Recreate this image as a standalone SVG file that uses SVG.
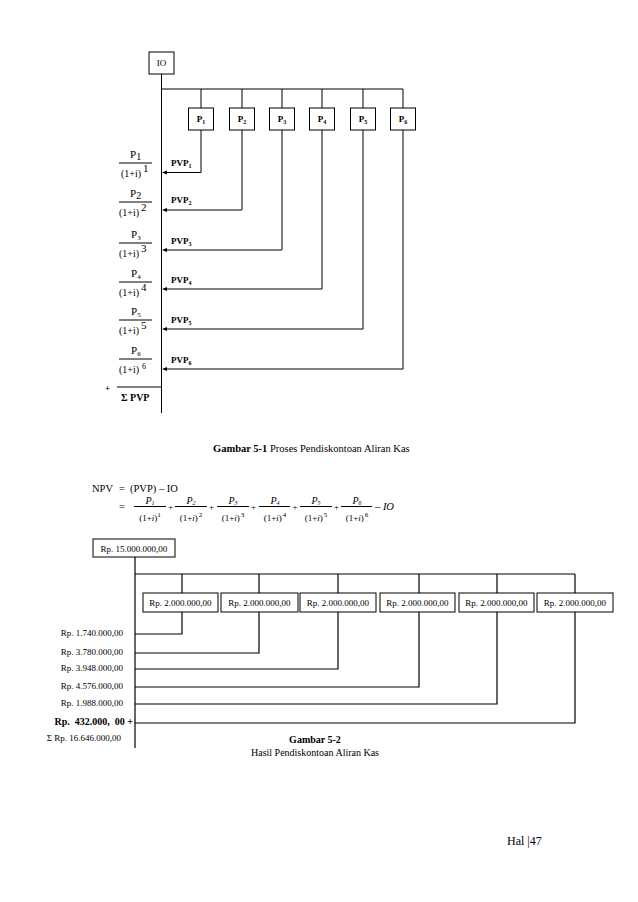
<svg xmlns="http://www.w3.org/2000/svg" width="638" height="902" viewBox="0 0 638 902">
<defs>
<style>
text{font-family:"Liberation Serif","Times New Roman",serif;fill:#000}
.ln{stroke:#000;stroke-width:1;fill:none}
.ln2{stroke:#000;stroke-width:1.2;fill:none}
.bx{stroke:#000;stroke-width:1;fill:#fff}
.s9{font-size:9px}
.b{font-weight:bold}
.fn{font-size:11px}
.fd{font-size:10px}
.fe{font-size:9px}
.eq{font-size:10.5px}
.it{font-style:italic}
.c{text-anchor:middle}
.e{text-anchor:end}
</style>
</defs>
<rect width="638" height="902" fill="#fff"/>

<!-- Figure 5-1 connectors -->
<g id="connectors1">
<line class="ln" x1="161.5" y1="74" x2="161.5" y2="413"/>
<polyline class="ln" points="161.5,89 403,89"/>
<line class="ln" x1="201" y1="89" x2="201" y2="108"/>
<line class="ln" x1="242" y1="89" x2="242" y2="108"/>
<line class="ln" x1="282" y1="89" x2="282" y2="108"/>
<line class="ln" x1="322" y1="89" x2="322" y2="108"/>
<line class="ln" x1="363" y1="89" x2="363" y2="108"/>
<line class="ln" x1="403" y1="89" x2="403" y2="108"/>
<polyline class="ln" points="201,130 201,172.5 164,172.5"/>
<polyline class="ln" points="242,130 242,210 164,210"/>
<polyline class="ln" points="282,130 282,250 164,250"/>
<polyline class="ln" points="322,130 322,289 164,289"/>
<polyline class="ln" points="363,130 363,329 164,329"/>
<polyline class="ln" points="403,130 403,369 164,369"/>
<path d="M162,172.5 L167,170.5 L167,174.5 Z M162,210 L167,208 L167,212 Z M162,250 L167,248 L167,252 Z M162,289 L167,287 L167,291 Z M162,329 L167,327 L167,331 Z M162,369 L167,367 L167,371 Z" fill="#000"/>
<line class="ln" x1="117" y1="387" x2="161.5" y2="387"/>
</g>

<g id="IO">
<rect class="bx" x="149" y="52" width="25" height="22"/>
<text class="s9 c" x="161.5" y="66">IO</text>
</g>
<g id="P1"><rect class="bx" x="188.5" y="108" width="25" height="22"/><text class="s9 b c" x="201" y="122">P<tspan font-size="6" dy="2">1</tspan></text></g>
<g id="P2"><rect class="bx" x="229.5" y="108" width="25" height="22"/><text class="s9 b c" x="242" y="122">P<tspan font-size="6" dy="2">2</tspan></text></g>
<g id="P3"><rect class="bx" x="269.5" y="108" width="25" height="22"/><text class="s9 b c" x="282" y="122">P<tspan font-size="6" dy="2">3</tspan></text></g>
<g id="P4"><rect class="bx" x="309.5" y="108" width="25" height="22"/><text class="s9 b c" x="322" y="122">P<tspan font-size="6" dy="2">4</tspan></text></g>
<g id="P5"><rect class="bx" x="350.5" y="108" width="25" height="22"/><text class="s9 b c" x="363" y="122">P<tspan font-size="6" dy="2">5</tspan></text></g>
<g id="P6"><rect class="bx" x="390.5" y="108" width="25" height="22"/><text class="s9 b c" x="403" y="122">P<tspan font-size="6" dy="2">6</tspan></text></g>

<g id="pvp-labels">
<text class="s9 b" x="171" y="166">PVP<tspan font-size="6" dy="2">1</tspan></text>
<text class="s9 b" x="171" y="203">PVP<tspan font-size="6" dy="2">2</tspan></text>
<text class="s9 b" x="171" y="244">PVP<tspan font-size="6" dy="2">3</tspan></text>
<text class="s9 b" x="171" y="283">PVP<tspan font-size="6" dy="2">4</tspan></text>
<text class="s9 b" x="171" y="323">PVP<tspan font-size="6" dy="2">5</tspan></text>
<text class="s9 b" x="171" y="363">PVP<tspan font-size="6" dy="2">6</tspan></text>
</g>

<g id="fractions1">
<line class="ln" x1="119" y1="163" x2="152" y2="163"/>
<text class="fn" x="130" y="158">P<tspan font-size="10" dy="2">1</tspan></text>
<text class="fd" x="121" y="177">(1+i)<tspan font-size="11" dx="2" dy="-5">1</tspan></text>
<line class="ln" x1="119" y1="202" x2="152" y2="202"/>
<text class="fn" x="130" y="197">P<tspan font-size="10" dy="2">2</tspan></text>
<text class="fd" x="119" y="216">(1+i)<tspan font-size="11" dx="2" dy="-5">2</tspan></text>
<line class="ln" x1="119" y1="243" x2="152" y2="243"/>
<text class="fn" x="131" y="238">P<tspan font-size="7" dy="2">3</tspan></text>
<text class="fd" x="119" y="257">(1+i)<tspan font-size="11" dx="2" dy="-5">3</tspan></text>
<line class="ln" x1="119" y1="282" x2="152" y2="282"/>
<text class="fn" x="131" y="277">P<tspan font-size="7" dy="2">4</tspan></text>
<text class="fd" x="119" y="296">(1+i)<tspan font-size="11" dx="2" dy="-5">4</tspan></text>
<line class="ln" x1="119" y1="320" x2="152" y2="320"/>
<text class="fn" x="131" y="315">P<tspan font-size="7" dy="2">5</tspan></text>
<text class="fd" x="119" y="334">(1+i)<tspan font-size="11" dx="2" dy="-5">5</tspan></text>
<line class="ln" x1="119" y1="359" x2="152" y2="359"/>
<text class="fn" x="131" y="354">P<tspan font-size="7" dy="2">6</tspan></text>
<text class="fd" x="119" y="373">(1+i)<tspan font-size="8" dx="3" dy="-4">6</tspan></text>
<text class="s9 b" x="105" y="391">+</text>
<text class="b" font-size="10" x="121" y="401">Σ PVP</text>
</g>

<text class="eq" x="213" y="452"><tspan font-weight="bold">Gambar 5-1</tspan> Proses Pendiskontoan Aliran Kas</text>

<!-- NPV formula -->
<g id="npv">
<text class="eq" x="92" y="492">NPV</text>
<text class="eq" x="119" y="492">=</text>
<text class="eq" x="130" y="492">(PVP) – IO</text>
<text class="eq" x="119" y="510">=</text>
<line class="ln" x1="134" y1="506.5" x2="166" y2="506.5"/>
<text class="it c" font-size="10" x="150" y="503.5">P<tspan font-size="6" dy="1">1</tspan></text>
<text class="fe c" x="150" y="521">(1+<tspan font-style="italic">i</tspan>)<tspan font-size="7" dy="-4">1</tspan></text>
<text class="fe c" x="170.5" y="510">+</text>
<line class="ln" x1="175" y1="506.5" x2="207" y2="506.5"/>
<text class="it c" font-size="10" x="191" y="503.5">P<tspan font-size="6" dy="1">2</tspan></text>
<text class="fe c" x="191" y="521">(1+<tspan font-style="italic">i</tspan>)<tspan font-size="7" dx="1" dy="-4">2</tspan></text>
<text class="fe c" x="211.5" y="510">+</text>
<line class="ln" x1="217" y1="506.5" x2="249" y2="506.5"/>
<text class="it c" font-size="10" x="233" y="503.5">P<tspan font-size="6" dy="1">3</tspan></text>
<text class="fe c" x="233" y="521">(1+<tspan font-style="italic">i</tspan>)<tspan font-size="7" dx="1" dy="-4">3</tspan></text>
<text class="fe c" x="253.5" y="510">+</text>
<line class="ln" x1="259" y1="506.5" x2="290" y2="506.5"/>
<text class="it c" font-size="10" x="275" y="503.5">P<tspan font-size="6" dy="1">4</tspan></text>
<text class="fe c" x="275" y="521">(1+<tspan font-style="italic">i</tspan>)<tspan font-size="7" dx="1" dy="-4">4</tspan></text>
<text class="fe c" x="295" y="510">+</text>
<line class="ln" x1="300" y1="506.5" x2="332" y2="506.5"/>
<text class="it c" font-size="10" x="316" y="503.5">P<tspan font-size="6" dy="1">5</tspan></text>
<text class="fe c" x="316" y="521">(1+<tspan font-style="italic">i</tspan>)<tspan font-size="7" dx="1" dy="-4">5</tspan></text>
<text class="fe c" x="336.5" y="510">+</text>
<line class="ln" x1="341" y1="506.5" x2="372" y2="506.5"/>
<text class="it c" font-size="10" x="357" y="503.5">P<tspan font-size="6" dy="1">6</tspan></text>
<text class="fe c" x="357" y="521">(1+<tspan font-style="italic">i</tspan>)<tspan font-size="7" dx="1" dy="-4">6</tspan></text>
<text class="eq" x="375" y="510">– <tspan font-style="italic">IO</tspan></text>
</g>

<!-- Figure 5-2 connectors -->
<g id="connectors2">
<line class="ln2" x1="135" y1="557" x2="135" y2="748"/>
<line class="ln2" x1="135" y1="574" x2="575" y2="574"/>
<line class="ln2" x1="182" y1="574" x2="182" y2="593"/>
<line class="ln2" x1="259" y1="574" x2="259" y2="593"/>
<line class="ln2" x1="338" y1="574" x2="338" y2="593"/>
<line class="ln2" x1="419" y1="574" x2="419" y2="593"/>
<line class="ln2" x1="497" y1="574" x2="497" y2="593"/>
<line class="ln2" x1="575" y1="574" x2="575" y2="593"/>
<polyline class="ln2" points="182,612 182,634 135,634"/>
<polyline class="ln2" points="259,612 259,653 135,653"/>
<polyline class="ln2" points="338,612 338,669 135,669"/>
<polyline class="ln2" points="419,612 419,687 135,687"/>
<polyline class="ln2" points="497,612 497,704 135,704"/>
<polyline class="ln2" points="575,612 575,723 135,723"/>
</g>

<g id="IO2"><rect class="bx" x="93" y="539" width="82" height="18"/><text class="s9 c" x="134" y="551.5">Rp. 15.000.000,00</text></g>
<g id="B1"><rect class="bx" x="143" y="593" width="75" height="19"/><text class="s9 c" x="180.5" y="605.5">Rp. 2.000.000,00</text></g>
<g id="B2"><rect class="bx" x="221" y="593" width="77" height="19"/><text class="s9 c" x="259.5" y="605.5">Rp. 2.000.000,00</text></g>
<g id="B3"><rect class="bx" x="300" y="593" width="76" height="19"/><text class="s9 c" x="338" y="605.5">Rp. 2.000.000,00</text></g>
<g id="B4"><rect class="bx" x="380" y="593" width="75" height="19"/><text class="s9 c" x="417.5" y="605.5">Rp. 2.000.000,00</text></g>
<g id="B5"><rect class="bx" x="459" y="593" width="75" height="19"/><text class="s9 c" x="496.5" y="605.5">Rp. 2.000.000,00</text></g>
<g id="B6"><rect class="bx" x="537" y="593" width="76" height="19"/><text class="s9 c" x="575" y="605.5">Rp. 2.000.000,00</text></g>

<g id="results">
<text class="s9 e" x="123" y="636">Rp. 1.740.000,00</text>
<text class="s9 e" x="123" y="655">Rp. 3.780.000,00</text>
<text class="s9 e" x="123" y="671">Rp. 3.948.000,00</text>
<text class="s9 e" x="123" y="689">Rp. 4.576.000,00</text>
<text class="s9 e" x="123" y="706">Rp. 1.988.000,00</text>
<text class="e b" font-size="10" x="133" y="725">Rp.&#160; 432.000,&#160; 00 +</text>
<text class="s9 e" x="121" y="741">Σ Rp. 16.646.000,00</text>
</g>

<text class="c b" font-size="10" x="315" y="743">Gambar 5-2</text>
<text class="c" font-size="10" x="315" y="756">Hasil Pendiskontoan Aliran Kas</text>

<text font-size="12" x="507" y="845">Hal |47</text>
</svg>
